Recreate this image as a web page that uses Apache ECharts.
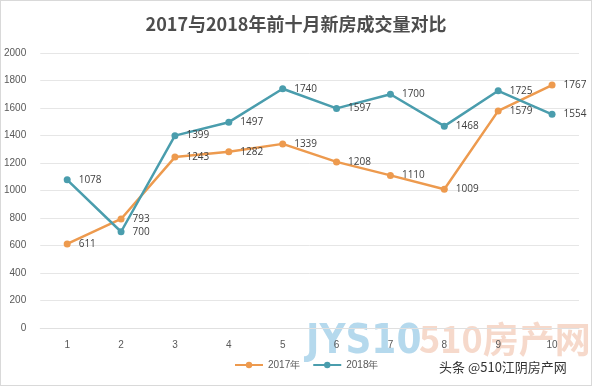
<!DOCTYPE html>
<html><head><meta charset="utf-8">
<script src="https://cdn.jsdelivr.net/npm/echarts@6/dist/echarts.min.js"></script>
<style>html,body{margin:0;padding:0;background:#fff}#c{width:592px;height:386px;box-sizing:border-box;border:1px solid #d9d9d9}</style>
</head><body><div id="c"></div>
<script>
var categories = ['1','2','3','4','5','6','7','8','9','10'];
var s2017 = [611, 793, 1243, 1282, 1339, 1208, 1110, 1009, 1579, 1767];
var s2018 = [1078, 700, 1399, 1497, 1740, 1597, 1700, 1468, 1725, 1554];
var chart = echarts.init(document.getElementById('c'));
var lab = {show:true, position:'right', distance:8, color:'#404040', fontSize:10, fontFamily:'Open Sans'};
chart.setOption({
  animation:false,
  title:{text:'2017与2018年前十月新房成交量对比', left:'center', top:9,
    textStyle:{fontSize:18, fontWeight:'bold', color:'#4d4d4d', fontFamily:'Noto Sans CJK SC'}},
  grid:{left:33, right:12, top:52, bottom:57},
  legend:{bottom:10, left:228, itemWidth:28, itemHeight:8, itemGap:12,
    textStyle:{color:'#595959', fontSize:10}, data:['2017年','2018年']},
  xAxis:{type:'category', data:categories, boundaryGap:true,
    axisLine:{show:true, lineStyle:{color:'#e0e0e0'}}, axisTick:{show:false},
    axisLabel:{color:'#595959', fontSize:10, margin:12}},
  yAxis:{type:'value', min:0, max:2000, interval:200,
    axisLine:{show:false}, axisTick:{show:false},
    axisLabel:{color:'#595959', fontSize:10, margin:14, formatter:function(v){return String(v);}},
    splitLine:{lineStyle:{color:'#e6e6e6'}}},
  graphic:[
    {type:'text', left:418, top:320, z:-1, style:{text:'510房产网', fill:'rgba(236,170,140,0.45)', font:'bold 36px "Noto Sans CJK SC"'}},
    {type:'text', left:438, top:360, style:{text:'头条 @510江阴房产网', fill:'#333', font:'13px "Noto Sans CJK SC"'}},
    {type:'text', left:305, top:322, z:-1, style:{text:'JYS10', fill:'rgba(90,170,215,0.45)', font:'bold 40px "DejaVu Sans Condensed"'}}
  ],
  series:[
    {name:'2017年', type:'line', data:s2017, symbol:'circle', symbolSize:7,
      itemStyle:{color:'#ED9A4E'}, lineStyle:{width:2.5, color:'#ED9A4E'}, label:lab},
    {name:'2018年', type:'line', data:s2018, symbol:'circle', symbolSize:7,
      itemStyle:{color:'#4A9DAD'}, lineStyle:{width:2.5, color:'#4A9DAD'}, label:lab}
  ]
});
</script></body></html>
